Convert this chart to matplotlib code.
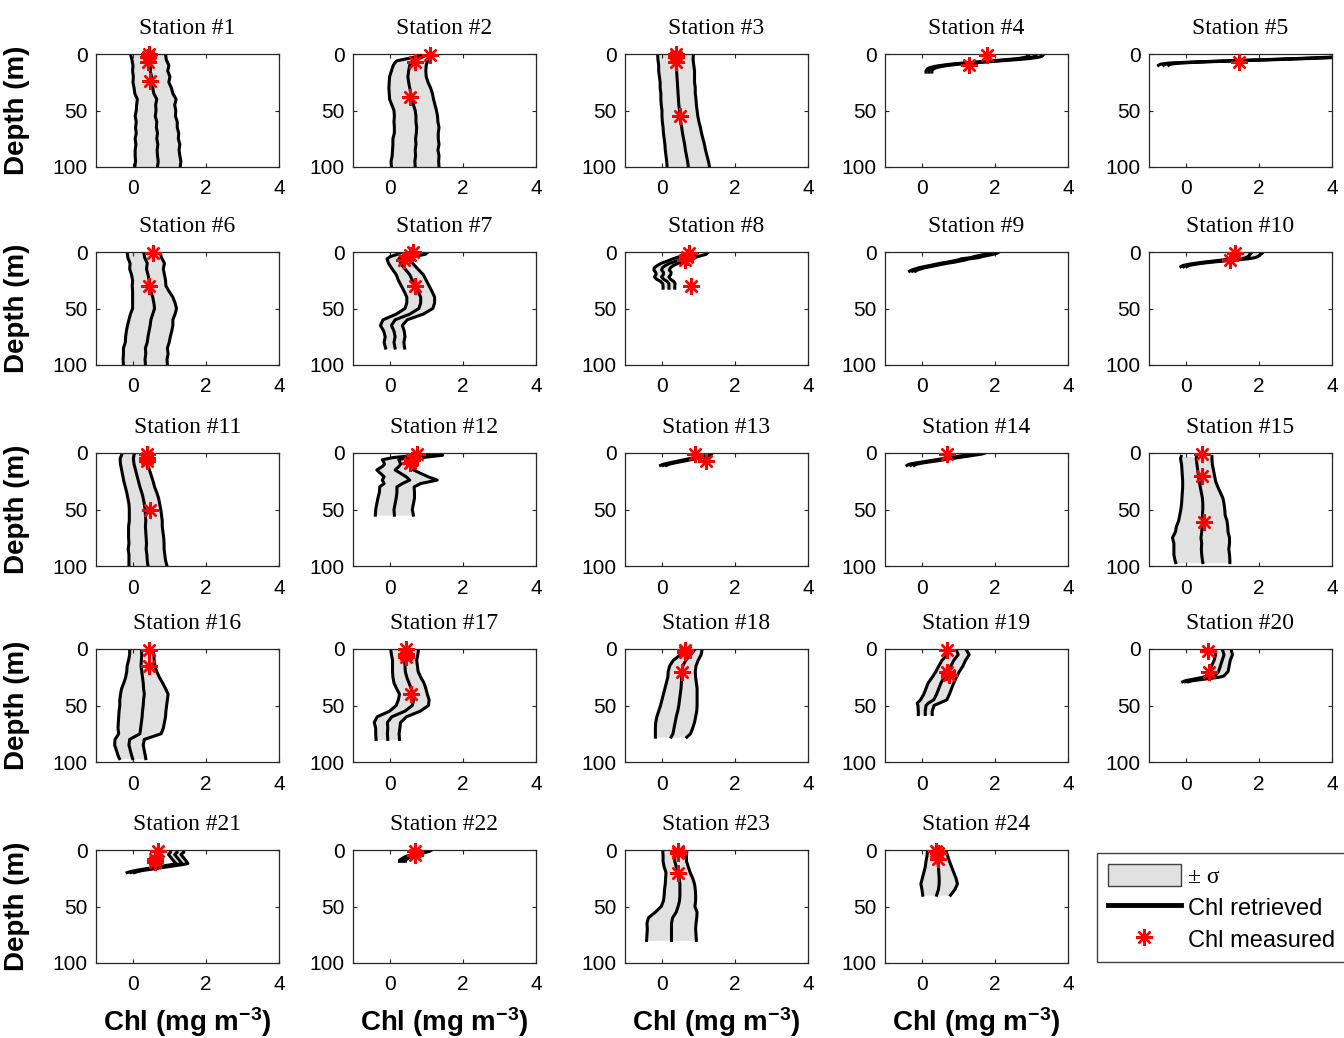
import matplotlib
matplotlib.use("Agg")
import matplotlib.pyplot as plt
from matplotlib.patches import Patch
from matplotlib.lines import Line2D
import numpy as np

plt.rcParams["font.family"] = ["Liberation Sans", "DejaVu Sans"]
plt.rcParams["mathtext.fontset"] = "custom"
plt.rcParams["mathtext.rm"] = "Liberation Sans"
plt.rcParams["mathtext.bf"] = "Liberation Sans:bold"
plt.rcParams["mathtext.default"] = "bf"

# ---------------------------------------------------------------------------
# Retrieved Chl profiles (mean and standard deviation, mg m-3) per station,
# with the in-situ measurements (depth in m, Chl in mg m-3).
# ---------------------------------------------------------------------------
station_names = [
    "Station #1", "Station #2", "Station #3", "Station #4", "Station #5",
    "Station #6", "Station #7", "Station #8", "Station #9", "Station #10",
    "Station #11", "Station #12", "Station #13", "Station #14", "Station #15",
    "Station #16", "Station #17", "Station #18", "Station #19", "Station #20",
    "Station #21", "Station #22", "Station #23", "Station #24",
]

depth_01 = [0, 5, 10, 15, 20, 25, 30, 35, 40, 45, 50, 55, 60, 65, 70, 75, 80, 85, 90, 95, 100]
chl_01 = [0.42, 0.45, 0.50, 0.48, 0.52, 0.50, 0.55, 0.58, 0.66, 0.63, 0.64, 0.62, 0.66, 0.65, 0.68, 0.66, 0.69, 0.67, 0.68, 0.70, 0.68]
sd_01 = [0.48, 0.47, 0.49, 0.48, 0.50, 0.49, 0.51, 0.52, 0.53, 0.52, 0.54, 0.55, 0.56, 0.57, 0.58, 0.59, 0.60, 0.60, 0.61, 0.62, 0.62]
zmeas_01 = [0, 3, 7, 24]
cmeas_01 = [0.45, 0.43, 0.42, 0.47]

depth_02 = [0, 2, 4, 6, 8, 10, 15, 20, 25, 30, 35, 40, 45, 50, 55, 60, 65, 70, 75, 80, 85, 90, 95, 100]
chl_02 = [1.00, 0.95, 0.80, 0.62, 0.58, 0.55, 0.52, 0.50, 0.52, 0.55, 0.58, 0.60, 0.65, 0.70, 0.72, 0.72, 0.74, 0.73, 0.71, 0.72, 0.70, 0.71, 0.69, 0.70]
sd_02 = [0.08, 0.15, 0.30, 0.42, 0.44, 0.45, 0.47, 0.50, 0.53, 0.57, 0.59, 0.60, 0.59, 0.58, 0.59, 0.60, 0.61, 0.60, 0.62, 0.63, 0.62, 0.64, 0.65, 0.65]
zmeas_02 = [1, 7, 38]
cmeas_02 = [1.10, 0.70, 0.55]

depth_03 = [0, 5, 10, 15, 20, 25, 30, 35, 40, 45, 50, 55, 60, 65, 70, 75, 80, 85, 90, 95, 100]
chl_03 = [0.38, 0.38, 0.40, 0.41, 0.42, 0.43, 0.44, 0.45, 0.46, 0.47, 0.49, 0.50, 0.52, 0.55, 0.57, 0.60, 0.63, 0.65, 0.68, 0.71, 0.73]
sd_03 = [0.49, 0.48, 0.48, 0.49, 0.48, 0.47, 0.48, 0.47, 0.48, 0.48, 0.48, 0.49, 0.50, 0.51, 0.52, 0.53, 0.54, 0.55, 0.56, 0.57, 0.58]
zmeas_03 = [0, 3, 7, 55]
cmeas_03 = [0.40, 0.40, 0.40, 0.50]

depth_04 = [0, 1, 2, 3, 4, 5, 6, 7, 8, 9, 10, 11, 12, 13, 14, 15, 16]
chl_04 = [3.15, 3.12, 3.10, 3.00, 2.80, 2.45, 2.05, 1.65, 1.25, 0.90, 0.65, 0.45, 0.32, 0.25, 0.22, 0.20, 0.20]
sd_04 = [0.20, 0.20, 0.19, 0.18, 0.16, 0.15, 0.14, 0.13, 0.12, 0.11, 0.10, 0.10, 0.09, 0.09, 0.08, 0.08, 0.08]
zmeas_04 = [1, 10]
cmeas_04 = [1.80, 1.30]

depth_05 = [0, 1, 2, 3, 4, 5, 6, 7, 8, 9, 10]
chl_05 = [5.60, 5.20, 4.70, 4.00, 3.20, 2.30, 1.30, 0.40, -0.30, -0.55, -0.60]
sd_05 = [0.25, 0.24, 0.22, 0.20, 0.18, 0.17, 0.16, 0.15, 0.15, 0.14, 0.14]
zmeas_05 = [7]
cmeas_05 = [1.45]

depth_06 = [0, 5, 10, 15, 20, 25, 30, 35, 40, 45, 50, 55, 60, 65, 70, 75, 80, 85, 90, 95, 100]
chl_06 = [0.30, 0.33, 0.40, 0.38, 0.42, 0.45, 0.45, 0.50, 0.55, 0.58, 0.60, 0.55, 0.50, 0.48, 0.45, 0.42, 0.40, 0.35, 0.36, 0.34, 0.35]
sd_06 = [0.45, 0.46, 0.47, 0.46, 0.45, 0.45, 0.46, 0.50, 0.55, 0.58, 0.60, 0.61, 0.60, 0.62, 0.62, 0.61, 0.60, 0.60, 0.61, 0.60, 0.60]
zmeas_06 = [1, 30]
cmeas_06 = [0.55, 0.45]

depth_07 = [0, 2, 4, 6, 10, 15, 20, 25, 30, 35, 40, 45, 50, 55, 60, 65, 70, 75, 80, 85]
chl_07 = [0.70, 0.60, 0.35, 0.25, 0.30, 0.42, 0.55, 0.62, 0.70, 0.78, 0.85, 0.85, 0.80, 0.55, 0.15, 0.05, 0.12, 0.15, 0.12, 0.15]
sd_07 = [0.35, 0.38, 0.33, 0.32, 0.33, 0.35, 0.37, 0.38, 0.38, 0.38, 0.38, 0.38, 0.38, 0.37, 0.33, 0.30, 0.28, 0.27, 0.27, 0.26]
zmeas_07 = [0, 3, 7, 30]
cmeas_07 = [0.65, 0.55, 0.40, 0.70]

depth_08 = [0, 2, 4, 6, 8, 10, 12, 14, 16, 18, 20, 22, 24, 26, 28, 30, 32]
chl_08 = [1.00, 0.95, 0.75, 0.55, 0.40, 0.22, 0.10, 0.02, 0.00, 0.05, 0.05, 0.00, 0.05, 0.15, 0.20, 0.20, 0.20]
sd_08 = [0.28, 0.27, 0.25, 0.24, 0.24, 0.23, 0.22, 0.22, 0.21, 0.21, 0.20, 0.20, 0.19, 0.18, 0.17, 0.16, 0.16]
zmeas_08 = [1, 4, 7, 30]
cmeas_08 = [0.75, 0.70, 0.65, 0.80]

depth_09 = [0, 1, 2, 3, 4, 5, 6, 7, 8, 9, 10, 11, 12, 13, 14, 15, 16, 17]
chl_09 = [2.00, 1.95, 1.85, 1.70, 1.55, 1.45, 1.20, 1.10, 0.95, 0.80, 0.60, 0.45, 0.30, 0.15, 0.00, -0.10, -0.20, -0.25]
sd_09 = [0.12, 0.12, 0.12, 0.12, 0.11, 0.11, 0.11, 0.10, 0.10, 0.10, 0.10, 0.09, 0.09, 0.09, 0.08, 0.08, 0.08, 0.08]
zmeas_09 = []
cmeas_09 = []

depth_10 = [0, 1, 2, 3, 4, 5, 6, 7, 8, 9, 10, 11, 12, 13]
chl_10 = [1.80, 1.80, 1.75, 1.75, 1.70, 1.65, 1.50, 1.20, 0.90, 0.60, 0.35, 0.15, 0.00, -0.05]
sd_10 = [0.30, 0.30, 0.29, 0.28, 0.27, 0.25, 0.22, 0.18, 0.15, 0.12, 0.10, 0.09, 0.08, 0.08]
zmeas_10 = [1, 7]
cmeas_10 = [1.35, 1.20]

depth_11 = [0, 5, 10, 15, 20, 25, 30, 35, 40, 45, 50, 55, 60, 65, 70, 75, 80, 85, 90, 95, 100]
chl_11 = [0.05, 0.02, 0.04, 0.08, 0.12, 0.16, 0.20, 0.25, 0.29, 0.32, 0.34, 0.35, 0.36, 0.35, 0.36, 0.37, 0.38, 0.37, 0.39, 0.40, 0.42]
sd_11 = [0.33, 0.36, 0.37, 0.38, 0.39, 0.40, 0.40, 0.41, 0.42, 0.42, 0.43, 0.44, 0.45, 0.46, 0.47, 0.48, 0.48, 0.49, 0.49, 0.50, 0.52]
zmeas_11 = [1, 4, 7, 50]
cmeas_11 = [0.40, 0.40, 0.40, 0.47]

depth_12 = [0, 2, 4, 6, 8, 10, 12, 15, 18, 21, 24, 27, 30, 35, 40, 45, 50, 55]
chl_12 = [0.80, 1.10, 0.50, 0.25, 0.28, 0.30, 0.25, 0.15, 0.30, 0.45, 0.55, 0.35, 0.20, 0.20, 0.18, 0.15, 0.12, 0.13]
sd_12 = [0.20, 0.35, 0.40, 0.45, 0.44, 0.44, 0.45, 0.50, 0.55, 0.60, 0.75, 0.50, 0.47, 0.48, 0.50, 0.50, 0.50, 0.52]
zmeas_12 = [1, 6, 9]
cmeas_12 = [0.75, 0.60, 0.55]

depth_13 = [0, 1, 2, 3, 4, 5, 6, 7, 8, 9, 10, 11]
chl_13 = [1.25, 1.25, 1.22, 1.15, 1.00, 0.85, 0.70, 0.55, 0.40, 0.25, 0.12, 0.05]
sd_13 = [0.12, 0.12, 0.11, 0.11, 0.10, 0.10, 0.09, 0.09, 0.08, 0.08, 0.08, 0.08]
zmeas_13 = [1, 7]
cmeas_13 = [0.90, 1.20]

depth_14 = [0, 1, 2, 3, 4, 5, 6, 7, 8, 9, 10, 11]
chl_14 = [1.60, 1.50, 1.30, 1.10, 0.90, 0.70, 0.50, 0.30, 0.10, -0.10, -0.25, -0.30]
sd_14 = [0.14, 0.14, 0.13, 0.13, 0.12, 0.12, 0.11, 0.11, 0.10, 0.10, 0.10, 0.10]
zmeas_14 = [1]
cmeas_14 = [0.70]

depth_15 = [3, 5, 10, 15, 20, 25, 30, 35, 40, 45, 50, 55, 60, 65, 70, 75, 80, 85, 90, 95, 97]
chl_15 = [0.30, 0.29, 0.31, 0.33, 0.35, 0.37, 0.40, 0.43, 0.46, 0.47, 0.47, 0.46, 0.47, 0.45, 0.44, 0.42, 0.44, 0.43, 0.44, 0.46, 0.47]
sd_15 = [0.42, 0.43, 0.42, 0.43, 0.44, 0.45, 0.48, 0.52, 0.56, 0.58, 0.60, 0.62, 0.66, 0.70, 0.72, 0.78, 0.76, 0.75, 0.76, 0.75, 0.74]
zmeas_15 = [1, 20, 61]
cmeas_15 = [0.45, 0.45, 0.50]

depth_16 = [0, 5, 10, 15, 20, 25, 30, 35, 40, 45, 50, 55, 60, 65, 70, 75, 80, 85, 90, 95, 97]
chl_16 = [0.24, 0.25, 0.24, 0.23, 0.25, 0.27, 0.29, 0.30, 0.32, 0.30, 0.29, 0.27, 0.26, 0.24, 0.22, 0.20, -0.08, -0.10, -0.06, -0.02, 0.00]
sd_16 = [0.32, 0.33, 0.35, 0.38, 0.41, 0.46, 0.53, 0.60, 0.65, 0.65, 0.64, 0.64, 0.64, 0.63, 0.62, 0.58, 0.40, 0.39, 0.38, 0.37, 0.36]
zmeas_16 = [1, 15]
cmeas_16 = [0.45, 0.45]

depth_17 = [0, 5, 10, 15, 20, 25, 30, 35, 40, 45, 50, 55, 60, 65, 70, 75, 80]
chl_17 = [0.41, 0.41, 0.41, 0.42, 0.43, 0.47, 0.53, 0.59, 0.65, 0.66, 0.62, 0.42, 0.06, -0.06, -0.05, -0.06, -0.05]
sd_17 = [0.38, 0.36, 0.33, 0.34, 0.35, 0.38, 0.41, 0.40, 0.38, 0.42, 0.44, 0.42, 0.40, 0.36, 0.33, 0.32, 0.32]
zmeas_17 = [0, 4, 7, 40]
cmeas_17 = [0.45, 0.45, 0.45, 0.58]

depth_18 = [0, 5, 10, 15, 20, 25, 30, 35, 40, 45, 50, 55, 60, 65, 70, 75, 78]
chl_18 = [0.92, 0.80, 0.66, 0.58, 0.55, 0.55, 0.54, 0.53, 0.51, 0.49, 0.47, 0.44, 0.40, 0.37, 0.34, 0.31, 0.26]
sd_18 = [0.19, 0.28, 0.34, 0.36, 0.37, 0.38, 0.41, 0.44, 0.46, 0.48, 0.50, 0.52, 0.53, 0.53, 0.51, 0.48, 0.43]
zmeas_18 = [1, 3, 20]
cmeas_18 = [0.65, 0.65, 0.57]

depth_19 = [0, 5, 10, 15, 20, 25, 30, 35, 40, 45, 48, 50, 55, 58]
chl_19 = [0.94, 1.00, 0.88, 0.80, 0.71, 0.62, 0.53, 0.47, 0.41, 0.33, 0.18, 0.12, 0.10, 0.10]
sd_19 = [0.27, 0.30, 0.32, 0.33, 0.32, 0.33, 0.35, 0.35, 0.35, 0.36, 0.30, 0.22, 0.19, 0.19]
zmeas_19 = [1, 20, 23]
cmeas_19 = [0.70, 0.70, 0.75]

depth_20 = [0, 5, 10, 15, 20, 22, 24, 25, 26, 27, 28, 29]
chl_20 = [1.00, 1.05, 1.00, 0.95, 0.90, 0.85, 0.80, 0.70, 0.50, 0.30, 0.10, 0.00]
sd_20 = [0.24, 0.23, 0.22, 0.24, 0.26, 0.25, 0.24, 0.22, 0.18, 0.14, 0.10, 0.08]
zmeas_20 = [2, 20]
cmeas_20 = [0.60, 0.65]

depth_21 = [0, 2, 4, 6, 8, 10, 12, 13, 14, 15, 16, 17, 18, 19, 20]
chl_21 = [1.20, 1.22, 1.15, 1.20, 1.25, 1.30, 1.35, 1.20, 1.00, 0.80, 0.60, 0.40, 0.20, 0.05, -0.05]
sd_21 = [0.18, 0.18, 0.17, 0.17, 0.17, 0.17, 0.16, 0.15, 0.14, 0.13, 0.12, 0.11, 0.10, 0.10, 0.10]
zmeas_21 = [1, 8, 11]
cmeas_21 = [0.70, 0.62, 0.60]

depth_22 = [0, 1, 2, 3, 4, 5, 6, 7, 8, 9, 10]
chl_22 = [1.05, 1.00, 0.90, 0.80, 0.70, 0.60, 0.50, 0.45, 0.40, 0.35, 0.35]
sd_22 = [0.10, 0.10, 0.10, 0.09, 0.09, 0.09, 0.08, 0.08, 0.08, 0.08, 0.08]
zmeas_22 = [1, 4]
cmeas_22 = [0.70, 0.70]

depth_23 = [0, 5, 10, 15, 20, 25, 30, 35, 40, 45, 50, 55, 60, 65, 70, 75, 80]
chl_23 = [0.36, 0.36, 0.36, 0.40, 0.45, 0.48, 0.50, 0.50, 0.50, 0.49, 0.45, 0.40, 0.30, 0.27, 0.27, 0.27, 0.27]
sd_23 = [0.33, 0.32, 0.32, 0.33, 0.33, 0.37, 0.40, 0.42, 0.43, 0.44, 0.46, 0.57, 0.66, 0.67, 0.66, 0.67, 0.68]
zmeas_23 = [1, 3, 20]
cmeas_23 = [0.45, 0.45, 0.45]

depth_24 = [0, 5, 10, 15, 20, 25, 30, 35, 40]
chl_24 = [0.41, 0.43, 0.44, 0.46, 0.47, 0.48, 0.48, 0.46, 0.41]
sd_24 = [0.25, 0.28, 0.32, 0.36, 0.41, 0.46, 0.50, 0.45, 0.38]
zmeas_24 = [1, 3, 8]
cmeas_24 = [0.38, 0.45, 0.45]

profiles = [
    (depth_01, chl_01, sd_01, zmeas_01, cmeas_01),
    (depth_02, chl_02, sd_02, zmeas_02, cmeas_02),
    (depth_03, chl_03, sd_03, zmeas_03, cmeas_03),
    (depth_04, chl_04, sd_04, zmeas_04, cmeas_04),
    (depth_05, chl_05, sd_05, zmeas_05, cmeas_05),
    (depth_06, chl_06, sd_06, zmeas_06, cmeas_06),
    (depth_07, chl_07, sd_07, zmeas_07, cmeas_07),
    (depth_08, chl_08, sd_08, zmeas_08, cmeas_08),
    (depth_09, chl_09, sd_09, zmeas_09, cmeas_09),
    (depth_10, chl_10, sd_10, zmeas_10, cmeas_10),
    (depth_11, chl_11, sd_11, zmeas_11, cmeas_11),
    (depth_12, chl_12, sd_12, zmeas_12, cmeas_12),
    (depth_13, chl_13, sd_13, zmeas_13, cmeas_13),
    (depth_14, chl_14, sd_14, zmeas_14, cmeas_14),
    (depth_15, chl_15, sd_15, zmeas_15, cmeas_15),
    (depth_16, chl_16, sd_16, zmeas_16, cmeas_16),
    (depth_17, chl_17, sd_17, zmeas_17, cmeas_17),
    (depth_18, chl_18, sd_18, zmeas_18, cmeas_18),
    (depth_19, chl_19, sd_19, zmeas_19, cmeas_19),
    (depth_20, chl_20, sd_20, zmeas_20, cmeas_20),
    (depth_21, chl_21, sd_21, zmeas_21, cmeas_21),
    (depth_22, chl_22, sd_22, zmeas_22, cmeas_22),
    (depth_23, chl_23, sd_23, zmeas_23, cmeas_23),
    (depth_24, chl_24, sd_24, zmeas_24, cmeas_24),
]

x_ticks = [0, 2, 4]
y_ticks = [0, 50, 100]
legend_labels = ["\u00b1 \u03c3", "Chl retrieved", "Chl measured"]

# ---------------------------------------------------------------------------
# Layout (pixels on a 1344 x 1038 canvas)
# ---------------------------------------------------------------------------
W, H = 1344, 1038
col_left = [96, 353, 625, 885, 1149]
row_top = [54, 252, 453, 649, 850]
ax_w, ax_h = 183, 113

band_gray = "#e1e1e1"
frame_gray = "#262626"
asterisk = (8, 2, 0)

fig = plt.figure(figsize=(W / 100, H / 100), dpi=100)

for k, (z, chl, sd, zm, cm) in enumerate(profiles):
    r, c = divmod(k, 5)
    ax = fig.add_axes([col_left[c] / W, 1 - (row_top[r] + ax_h) / H, ax_w / W, ax_h / H])

    z = np.asarray(z, float)
    chl = np.asarray(chl, float)
    sd = np.asarray(sd, float)
    lo, hi = chl - sd, chl + sd

    ax.fill_betweenx(z, lo, hi, color=band_gray, lw=0, zorder=1)
    for xs in (lo, chl, hi):
        ax.plot(xs, z, color="black", lw=2.2, zorder=2)
    if len(zm):
        ax.plot(cm, zm, ls="none", marker=asterisk, ms=12, mew=1.7,
                color="red", zorder=5, clip_on=False)

    ax.set_xlim(-1, 4)
    ax.set_ylim(100, 0)
    ax.set_xticks(x_ticks)
    ax.set_yticks(y_ticks)
    ax.tick_params(direction="in", length=3, width=0.8, top=True, right=True,
                   labelsize=15, colors=frame_gray, labelcolor="black")
    ax.tick_params(axis="x", pad=9)
    ax.tick_params(axis="y", pad=6)
    for sp in ax.spines.values():
        sp.set_color(frame_gray)
        sp.set_linewidth(0.9)

    ax.set_title(station_names[k], fontsize=17, family="Liberation Serif", pad=14.5)

    if c == 0:
        ax.set_ylabel("Depth (m)", fontsize=20, fontweight="bold")
        ax.yaxis.set_label_coords(-0.36, 0.5)
    if r == 4:
        ax.set_xlabel("Chl (mg m$^{-3}$)", fontsize=20, fontweight="bold")
        ax.xaxis.set_label_coords(0.5, -0.37)

handles = [
    Patch(facecolor=band_gray, edgecolor="#404040", linewidth=1.0),
    Line2D([], [], color="black", lw=3.5),
    Line2D([], [], ls="none", marker=asterisk, ms=12, mew=1.7, color="red"),
]
leg = fig.legend(handles, legend_labels, loc="upper left",
                 bbox_to_anchor=(1097 / W, 1 - 853 / H), borderaxespad=0,
                 fontsize=17, frameon=True, fancybox=False, framealpha=1,
                 edgecolor="#404040", handlelength=3.1, handleheight=1.1,
                 handletextpad=0.3, labelspacing=0.32, borderpad=0.45)
leg.get_frame().set_linewidth(1.0)
leg.get_texts()[0].set_family("Liberation Serif")

fig.savefig("out.png", dpi=100)
